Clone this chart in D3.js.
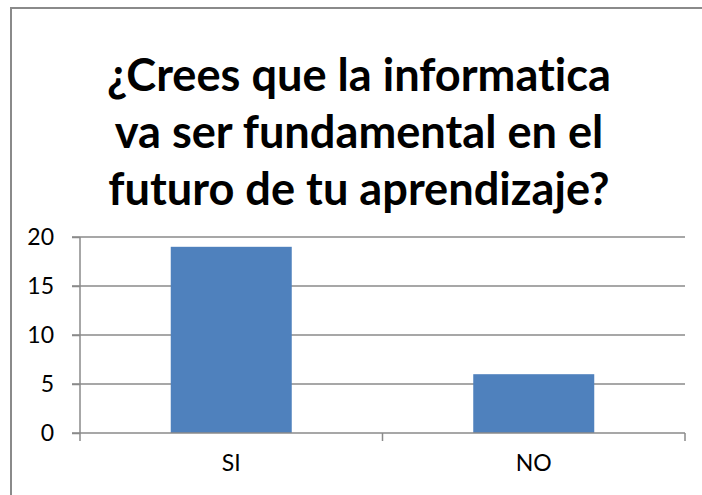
<!DOCTYPE html>
<html>
<head>
<meta charset="utf-8">
<script src="https://cdn.jsdelivr.net/npm/d3@7"></script>
<style>
  body { margin: 0; background: #fff; }
  svg { display: block; }
  text { font-variant-ligatures: none; font-feature-settings: "liga" 0; }
</style>
</head>
<body>
<div id="chart-area"></div>
<script>
// --- Data ---
var categories = ["SI", "NO"];
var values = [19, 6];
var yTicks = [0, 5, 10, 15, 20];
var titleLines = ["¿Crees que la informatica", "va ser fundamental en el", "futuro de tu aprendizaje?"];

var W = 702, H = 495;
var font = "Lato, 'Open Sans', sans-serif";
var gridColor = "#8a8a8a";

var svg = d3.select("#chart-area").append("svg")
    .attr("width", W)
    .attr("height", H);

// outer frame (left + top only visible)
svg.append("path")
    .attr("d", "M11," + H + " L11,8 L" + W + ",8")
    .attr("fill", "none")
    .attr("stroke", gridColor)
    .attr("stroke-width", 2);

// --- Title ---
var title = svg.append("g").attr("class", "title");
titleLines.forEach(function(line, i) {
    title.append("text")
        .text(line)
        .attr("x", 359)
        .attr("y", 91 + i * 57)
        .attr("text-anchor", "middle")
        .attr("font-family", font)
        .attr("font-weight", "bold")
        .attr("font-size", "40px")
        .attr("fill", "#000");
});
// fit the first line to the width seen in the picture
var w0 = title.select("text").node().getComputedTextLength();
var fs = 40 * 504 / w0;
title.selectAll("text").attr("font-size", fs + "px");

// --- Scales ---
var plot = {left: 80, right: 685, top: 237, bottom: 433};

var x = d3.scaleBand()
    .domain(categories)
    .range([plot.left, plot.right])
    .paddingInner(0.6)
    .paddingOuter(0.3);

var xCat = d3.scaleBand()
    .domain(categories)
    .range([plot.left, plot.right]);

var y = d3.scaleLinear()
    .domain([0, 20])
    .range([plot.bottom, plot.top]);

// --- Gridlines ---
svg.append("g")
    .selectAll("line")
    .data(yTicks.filter(function(d) { return d > 0; }))
    .enter().append("line")
        .attr("x1", plot.left - 8)
        .attr("x2", plot.right)
        .attr("y1", function(d) { return y(d); })
        .attr("y2", function(d) { return y(d); })
        .attr("stroke", gridColor)
        .attr("stroke-width", 1.5);

// --- Bars ---
svg.append("g")
    .selectAll("rect")
    .data(values)
    .enter().append("rect")
        .attr("x", function(d, i) { return x(categories[i]); })
        .attr("width", x.bandwidth())
        .attr("y", function(d) { return y(d); })
        .attr("height", function(d) { return y(0) - y(d); })
        .attr("fill", "#4f81bd");

// --- Y axis ---
var yAxis = d3.axisLeft(y)
    .tickValues(yTicks)
    .tickSize(8)
    .tickPadding(18);
var yAxisGroup = svg.append("g")
    .attr("transform", "translate(" + plot.left + ",0)")
    .call(yAxis);
yAxisGroup.select(".domain").remove();
yAxisGroup.append("line")
    .attr("x1", 0).attr("x2", 0)
    .attr("y1", plot.top).attr("y2", plot.bottom + 8)
    .attr("stroke", gridColor)
    .attr("stroke-width", 1.5);
yAxisGroup.selectAll(".tick line")
    .attr("stroke", gridColor)
    .attr("stroke-width", 1.5);
yAxisGroup.selectAll(".tick text")
    .attr("font-family", font)
    .attr("font-size", "23px")
    .attr("fill", "#000");

// --- X axis ---
var xAxis = d3.axisBottom(xCat)
    .tickSize(0)
    .tickPadding(22);
var xAxisGroup = svg.append("g")
    .attr("transform", "translate(0," + plot.bottom + ")")
    .call(xAxis);
xAxisGroup.select(".domain").remove();
xAxisGroup.append("line")
    .attr("x1", plot.left - 8).attr("x2", plot.right)
    .attr("y1", 0).attr("y2", 0)
    .attr("stroke", gridColor)
    .attr("stroke-width", 1.5);
// category boundary ticks
var bounds = [plot.left + xCat.step(), plot.right];
xAxisGroup.selectAll(".bound")
    .data(bounds)
    .enter().append("line")
        .attr("class", "bound")
        .attr("x1", function(d) { return d; })
        .attr("x2", function(d) { return d; })
        .attr("y1", 0).attr("y2", 8)
        .attr("stroke", gridColor)
        .attr("stroke-width", 1.5);
xAxisGroup.selectAll(".tick text")
    .attr("font-family", font)
    .attr("font-size", "23px")
    .attr("fill", "#000");
</script>
</body>
</html>
